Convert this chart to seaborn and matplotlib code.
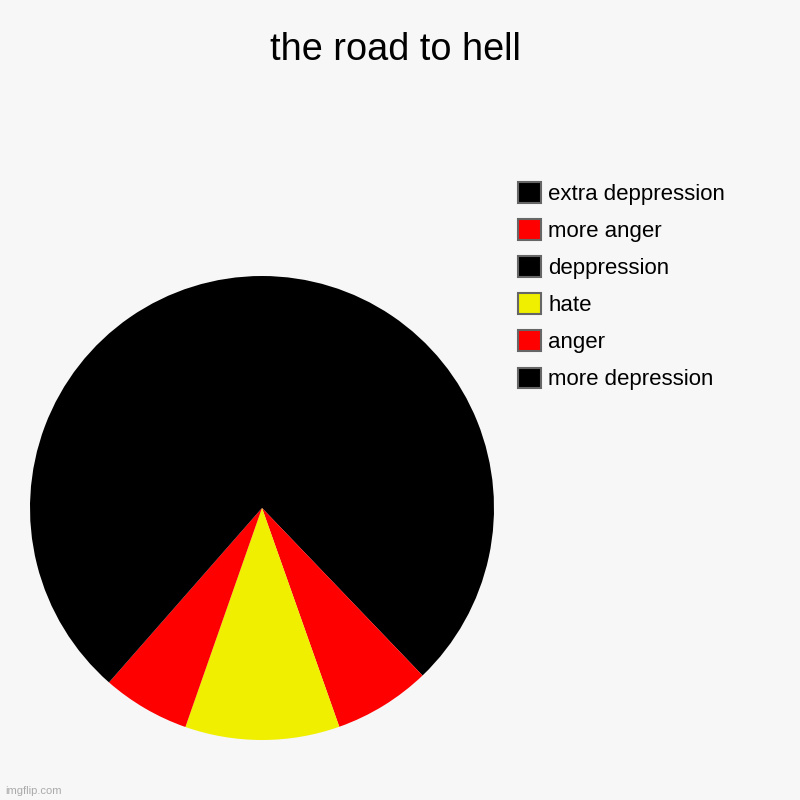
import matplotlib
matplotlib.use("Agg")
import matplotlib.pyplot as plt
from matplotlib.patches import Patch
import seaborn as sns

# --- chart data (slice order, clockwise from 12 o'clock) ---
labels = ['more depression', 'anger', 'hate', 'deppression', 'more anger', 'extra deppression']
values = [37.8, 6.75, 10.75, 0.0, 6.1, 38.5]
colors = ['#000000', '#ff0000', '#f0ef00', '#000000', '#ff0000', '#000000']
title = 'the road to hell'

BG = '#f7f7f7'

sns.set_theme(style='white', rc={'figure.facecolor': BG, 'axes.facecolor': BG,
                                 'text.color': '#000000'})
plt.rcParams['font.family'] = ['Liberation Sans', 'DejaVu Sans']

fig = plt.figure(figsize=(8, 8), dpi=100)
ax = fig.add_axes([30 / 800, 60 / 800, 464 / 800, 464 / 800])

ax.pie(values, colors=sns.color_palette(colors), startangle=90, counterclock=False,
       radius=1, wedgeprops={'linewidth': 0})
ax.set_xlim(-1, 1)
ax.set_ylim(-1, 1)
ax.set_aspect('equal')
ax.axis('off')

fig.suptitle(title, x=0.494, y=1 - 32 / 800, va='top', fontsize=27.3, color='#000000')

# legend lists the slices in reverse order
handles = [Patch(facecolor=c, edgecolor='#666666', linewidth=1.5) for c in colors][::-1]
leg = fig.legend(handles, labels[::-1], loc='upper left', bbox_to_anchor=(518 / 800, 1 - 182 / 800),
                 frameon=False, fontsize=16, handlelength=1.05, handleheight=1.05,
                 handletextpad=0.32, labelspacing=0.64, borderpad=0, borderaxespad=0)
for t in leg.get_texts():
    t.set_color('#000000')

fig.text(5 / 800, 4 / 800, 'imgflip.com', fontsize=8, color='#aaaaaa', ha='left', va='bottom')

fig.savefig('out.png', dpi=100, facecolor=BG)
